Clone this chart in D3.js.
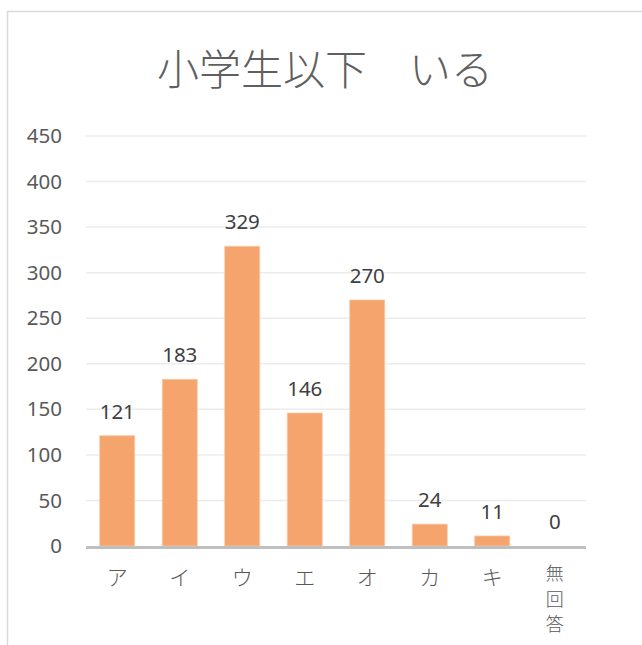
<!DOCTYPE html>
<html><head><meta charset="utf-8">
<script src="https://cdn.jsdelivr.net/npm/d3@7"></script>
<style>body{margin:0;background:#fff;}</style>
</head><body>
<svg id="c" width="642" height="645"></svg>
<script>
const title = "小学生以下　いる";
const categories = ["ア","イ","ウ","エ","オ","カ","キ","無回答"];
const values = [121,183,329,146,270,24,11,0];
const yTicks = [0,50,100,150,200,250,300,350,400,450];

const svg = d3.select("#c");
const font = "'Noto Sans','Noto Sans CJK JP',sans-serif";
const cjk = "'Noto Sans CJK JP',sans-serif";
// frame
svg.append("path").attr("d","M7.5,645 L7.5,11.5 L642,11.5").attr("fill","none").attr("stroke","#d9d9d9").attr("stroke-width",1.5);

const x = d3.scaleBand().domain(categories).range([86,586]).paddingInner(0.44).paddingOuter(0.22);
const y = d3.scaleLinear().domain([0,450]).range([546,136]);

// gridlines
svg.append("g").selectAll("line").data(yTicks.filter(d=>d>0)).join("line")
  .attr("x1",86).attr("x2",586).attr("y1",d=>y(d)).attr("y2",d=>y(d))
  .attr("stroke","#ececec").attr("stroke-width",1.5);

// y axis labels
const ya = svg.append("g").attr("transform","translate(62,0)")
  .call(d3.axisLeft(y).tickValues(yTicks).tickSize(0).tickPadding(0));
ya.select(".domain").remove();
ya.selectAll("text").attr("font-family",font).attr("font-size",20.5).attr("fill","#595959");

// bars
svg.append("g").selectAll("rect").data(values).join("rect")
  .attr("x",(d,i)=>x(categories[i])).attr("width",x.bandwidth())
  .attr("y",d=>y(d)).attr("height",d=>y(0)-y(d))
  .attr("fill","#f4a46c").attr("stroke","#f8c9a6").attr("stroke-width",0.8);

// axis line
svg.append("line").attr("x1",86).attr("x2",586).attr("y1",547.5).attr("y2",547.5)
  .attr("stroke","#bfbfbf").attr("stroke-width",3);

// value labels
svg.append("g").selectAll("text").data(values).join("text")
  .attr("x",(d,i)=>x(categories[i])+x.bandwidth()/2).attr("y",d=>y(d)-17)
  .attr("text-anchor","middle").attr("font-family",font).attr("font-size",20.5).attr("fill","#404040")
  .text(d=>d);

// category labels (vertical stacking for multi-char)
const cg = svg.append("g");
categories.forEach((c,i)=>{
  const cx = x(c)+x.bandwidth()/2;
  const chars = Array.from(c);
  chars.forEach((ch,k)=>{
    cg.append("text").attr("text-anchor","middle").attr("font-family",cjk).attr("font-weight",300)
      .attr("font-size",chars.length>1?18:21).attr("fill","#595959")
      .attr("x",cx).attr("y",(chars.length>1?580:585)+k*25.5).text(ch);
  });
});

// title
svg.append("text").attr("x",325).attr("y",85).attr("text-anchor","middle")
  .attr("font-family",cjk).attr("font-weight",300).attr("font-size",42).attr("fill","#5f5f5f")
  .text(title);
</script>
</body></html>
